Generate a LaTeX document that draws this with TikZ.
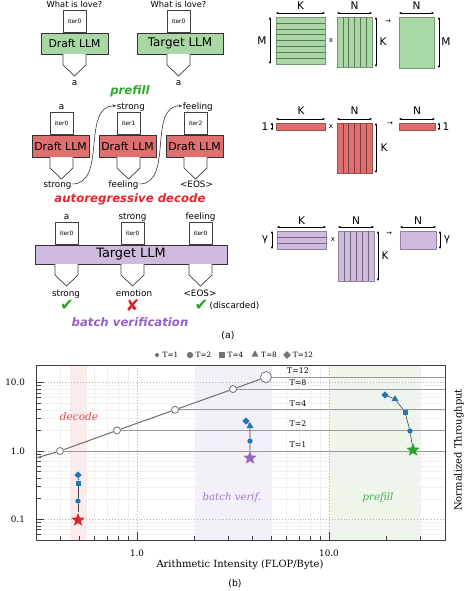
\documentclass[tikz,border=0pt]{standalone}
\usepackage{fontspec}
\setmainfont{DejaVu Sans}
\newfontfamily\plotfont{DejaVu Serif}
\usepackage{tikz}
\usetikzlibrary{arrows.meta,positioning,shapes.geometric,calc}
\definecolor{DraftGreen}{HTML}{A9D8A6}
\definecolor{StageRed}{HTML}{E07070}
\definecolor{VerifPurple}{HTML}{CFBAE0}
\definecolor{LabGreen}{HTML}{2EAA2E}
\definecolor{LabRed}{HTML}{E8262B}
\definecolor{LabPurple}{HTML}{9460C8}
\definecolor{MplBlue}{HTML}{1F77B4}
\definecolor{StarRed}{HTML}{D62728}
\definecolor{StarPurple}{HTML}{9467BD}
\definecolor{StarGreen}{HTML}{2CA02C}
\definecolor{DecShade}{HTML}{FCEBEB}
\definecolor{BatShade}{HTML}{F3F0F9}
\definecolor{PreShade}{HTML}{EEF6EC}
\newcommand{\fs}[1]{\fontsize{#1}{#1}\selectfont}

\begin{document}
\begin{tikzpicture}[x=0.03cm,y=-0.03cm,
  llm/.style={draw=black!80,line width=0.8pt,inner sep=0pt,minimum height=0.63cm},
  iterbox/.style={draw=black!75,fill=white,line width=0.5pt,inner sep=0pt,minimum width=0.69cm,minimum height=0.66cm,font=\fs{5}},
  tok/.style={inner sep=0.5pt,text height=1.5ex,text depth=0.3ex,font=\fs{7.5}},
  stage/.style={font=\fs{10}\bfseries\itshape},
  pent/.style={draw=black!75,fill=white,line width=0.6pt},
  tokflow/.style={-{Stealth[length=3pt,width=2.5pt]},line width=0.5pt,black!80},
  mat/.style={draw=#1!70!black,fill=#1,line width=0.4pt},
  dim/.style={{Latex[length=2pt,width=2pt]}-{Latex[length=2pt,width=2pt]},line width=0.6pt},
  mlab/.style={font=\fs{9},inner sep=0pt},
  verdict/.style={font=\fs{14},inner sep=0pt},
  plotaxis/.style={black!75,line width=0.8pt},
  minorgrid/.style={black!6,line width=0.4pt},
  majorgrid/.style={black!30,dotted,line width=0.5pt},
  mk/.style={fill=MplBlue,inner sep=0pt,draw=none},
  mcirc/.style={mk,circle,minimum size=0.16cm},
  msq/.style={mk,rectangle,minimum size=0.15cm},
  mtri/.style={mk,regular polygon,regular polygon sides=3,minimum size=0.24cm},
  mdia/.style={mk,diamond,minimum size=0.22cm},
  mstar/.style={star,star points=5,star point ratio=2.3,inner sep=0pt,minimum size=0.42cm,fill=#1},
  roofpt/.style={circle,draw=black!55,fill=white,line width=0.7pt,inner sep=0pt,minimum size=0.21cm},
  trace/.style={black!75,line width=0.5pt},
  lgd/.style={black!55,inner sep=0pt}]
\useasboundingbox (0,0) rectangle (472,591);

\node[llm,fill=DraftGreen,minimum width=2.01cm,font=\fs{9.2}] (pdraft) at (74.5,43.5) {Draft LLM};
\node[llm,fill=DraftGreen,minimum width=2.58cm,font=\fs{10.2}] (ptarget) at (180,43.5) {Target LLM};
\node[iterbox,anchor=south] (pit1) at (74.5,33) {iter0};
\node[iterbox,anchor=south] (pit2) at (178.5,33) {iter0};
\node[tok,font=\fs{7.1},above=0pt of pit1] (pin1) {What is love?};
\node[tok,font=\fs{7.1},above=0pt of pit2] (pin2) {What is love?};
\node[tok] (pout1) at (74.5,82) {a};
\node[tok] (pout2) at (178.5,82) {a};
\node[stage,text=LabGreen] (prefill) at (130,91) {prefill};

\foreach \n/\x in {1/60.5,2/127.5,3/194.5}
  \node[llm,fill=StageRed,minimum width=1.71cm,minimum height=0.66cm,font=\fs{9.3}] (ddraft\n) at (\x,146) {Draft LLM};
\node[iterbox,anchor=south] (dit1) at (61.5,135) {iter0};
\node[iterbox,anchor=south] (dit2) at (128.5,135) {iter1};
\node[iterbox,anchor=south] (dit3) at (195.5,135) {iter2};
\node[tok,above=0pt of dit1] (din1) {a};
\node[tok,above=0pt of dit2,xshift=2pt] (din2) {strong};
\node[tok,above=0pt of dit3,xshift=2pt] (din3) {feeling};
\node[tok] (dout1) at (57.5,184) {strong};
\node[tok] (dout2) at (123.5,184) {feeling};
\node[tok] (dout3) at (196.5,184) {<EOS>};
\draw[tokflow] (dout1.east) to[out=0,in=180] (din2.west);
\draw[tokflow] (dout2.east) to[out=0,in=180] (din3.west);
\node[stage,text=LabRed] (decode) at (130,199) {autoregressive decode};

\node[llm,fill=VerifPurple,minimum width=5.76cm,minimum height=0.57cm,font=\fs{11}] (vtarget) at (131,254.5) {Target LLM};
\node[iterbox,anchor=south] (vit1) at (66.5,245) {iter0};
\node[iterbox,anchor=south] (vit2) at (132.5,245) {iter0};
\node[iterbox,anchor=south] (vit3) at (200.5,245) {iter0};
\node[tok,above=0pt of vit1] (vin1) {a};
\node[tok,above=0pt of vit2] (vin2) {strong};
\node[tok,above=0pt of vit3] (vin3) {feeling};
\node[tok] (vout1) at (66,293) {strong};
\node[tok] (vout2) at (134,293) {emotion};
\node[tok] (vout3) at (200,293) {<EOS>};
\node[verdict,text=StarGreen] (ok1) at (67,305) {✔};
\node[verdict,text=StarRed] (bad2) at (132.5,305) {✘};
\node[verdict,text=StarGreen] (ok3) at (201.5,305) {✔};
\node[tok] (discard) at (234.5,305) {(discarded)};
\node[stage,text=LabPurple] (verif) at (130,322) {batch verification};

\foreach \cx/\ty in {74.5/54,178.5/54,61.5/157,128.5/157,195.5/157,66.5/264,132.5/264,200.5/264}
  \draw[pent] ({\cx-11.5},\ty) -- ++(0,11) -- (\cx,{\ty+22}) -- ({\cx+11.5},{\ty+11}) -- ++(0,-11);

\draw[mat=DraftGreen] (276,17) rectangle (325,64);
\foreach \i in {1,...,7} \draw[DraftGreen!55!black,line width=0.4pt] (276,{17+\i*47/8}) -- (325,{17+\i*47/8});
\draw[mat=DraftGreen] (337,17) rectangle (372,67);
\foreach \i in {1,...,5} \draw[DraftGreen!55!black,line width=0.4pt] ({337+\i*35/6},17) -- ({337+\i*35/6},67);
\draw[mat=DraftGreen] (399,17) rectangle (434,68);
\draw[dim] (276,13) -- (325,13);
\draw[dim] (337,13) -- (372,13);
\draw[dim] (399,13) -- (434,13);
\draw[dim] (270,17) -- (270,64);
\draw[dim] (376,17) -- (376,67);
\draw[dim] (439,17) -- (439,68);
\node[mlab] at (300.5,6) {K};
\node[mlab] at (354.5,6) {N};
\node[mlab] at (416.5,6) {N};
\node[mlab] at (262,40.5) {M};
\node[mlab] at (383,42) {K};
\node[mlab] at (446,42) {M};
\node[font=\fs{6}] at (331,41) {x};
\node[font=\fs{6}] at (388,22) {→};

\draw[mat=StageRed] (276,123) rectangle (325,130);
\draw[mat=StageRed] (337,123) rectangle (372,173);
\foreach \i in {1,...,5} \draw[StageRed!55!black,line width=0.4pt] ({337+\i*35/6},123) -- ({337+\i*35/6},173);
\draw[mat=StageRed] (399,123) rectangle (435,130);
\draw[dim] (276,119) -- (325,119);
\draw[dim] (337,119) -- (372,119);
\draw[dim] (399,119) -- (435,119);
\draw[dim] (272,122.5) -- (272,130.5);
\draw[dim] (376,123) -- (376,173);
\draw[dim] (439,122.5) -- (439,130.5);
\node[mlab] at (301,111) {K};
\node[mlab] at (354.5,111) {N};
\node[mlab] at (417,111) {N};
\node[mlab] at (265,126.5) {1};
\node[mlab] at (384,148) {K};
\node[mlab] at (446,126.5) {1};
\node[font=\fs{6}] at (331,126.5) {x};
\node[font=\fs{6}] at (390,124) {→};

\draw[mat=VerifPurple] (277,231) rectangle (326,249);
\foreach \i in {1,2} \draw[VerifPurple!55!black,line width=0.4pt] (277,{231+\i*6}) -- (326,{231+\i*6});
\draw[mat=VerifPurple] (338,231) rectangle (374,281);
\foreach \i in {1,...,5} \draw[VerifPurple!55!black,line width=0.4pt] ({338+\i*6},231) -- ({338+\i*6},281);
\draw[mat=VerifPurple] (400,231) rectangle (436,249);
\draw[dim] (277,227) -- (326,227);
\draw[dim] (338,227) -- (374,227);
\draw[dim] (400,227) -- (436,227);
\draw[dim] (272,231) -- (272,249);
\draw[dim] (378,231) -- (378,281);
\draw[dim] (440,231) -- (440,249);
\node[mlab] at (301.5,221) {K};
\node[mlab] at (356,221) {N};
\node[mlab] at (418,221) {N};
\node[mlab] at (265,240) {γ};
\node[mlab] at (385,256) {K};
\node[mlab] at (447,240) {γ};
\node[font=\fs{6}] at (333,240) {x};
\node[font=\fs{6}] at (389,234) {→};

\node[font=\fs{8}] (capa) at (228,336) {(a)};

\fill[DecShade] (70,365) rectangle (87,540);
\fill[BatShade] (195,365) rectangle (271,540);
\fill[PreShade] (329,365) rectangle (421,540);
\foreach \v in {0.4,0.5,0.6,0.7,0.8,0.9,2,3,4,5,6,7,8,9,20,30} {
  \pgfmathsetmacro\xx{137+192*log10(\v)}
  \draw[minorgrid] (\xx,365) -- (\xx,540);
  \draw[plotaxis,line width=0.6pt] (\xx,540) -- (\xx,535.5);
}
\foreach \v in {0.06,0.07,0.08,0.09,0.2,0.3,0.4,0.5,0.6,0.7,0.8,0.9,2,3,4,5,6,7,8,9} {
  \pgfmathsetmacro\yy{451-68.5*log10(\v)}
  \draw[minorgrid] (36,\yy) -- (445,\yy);
  \draw[plotaxis,line width=0.6pt] (36,\yy) -- (40.5,\yy);
}
\foreach \xx in {137,329} {
  \draw[majorgrid] (\xx,365) -- (\xx,540);
  \draw[plotaxis] (\xx,540) -- (\xx,532);
}
\foreach \yy in {382.5,451,519.5} {
  \draw[majorgrid] (36,\yy) -- (445,\yy);
  \draw[plotaxis] (36,\yy) -- (44,\yy);
}

\node[text=LabRed!85,font=\plotfont\fs{9}\itshape] (ldec) at (79,417) {decode};
\node[text=LabPurple!85,font=\plotfont\fs{8.7}\itshape] (lbat) at (232,498) {batch verif.};
\node[text=StarGreen!85,font=\plotfont\fs{8.7}\itshape] (lpre) at (378,498) {prefill};

\coordinate (roofL) at (36,458);
\node[roofpt] (c1) at (60,451) {};
\node[roofpt] (c2) at (117,430.4) {};
\node[roofpt] (c4) at (175,409.8) {};
\node[roofpt] (c8) at (233,389.1) {};
\node[roofpt,minimum size=0.33cm] (c12) at (266,377.1) {};
\foreach \t/\ly in {1/445,2/424,4/403.5,8/383,12/371} {
  \draw[black!40,line width=0.8pt] (c\t) -- (c\t -| 445,0);
  \node[font=\plotfont\fs{6.7},inner sep=0pt] (tl\t) at (298,\ly) {T=\t};
}
\draw[black!55,line width=0.9pt] (roofL) -- (c1) -- (c2) -- (c4) -- (c8) -- (c12);

\node[mstar=StarRed] (dS) at (78,520) {};
\node[mcirc] (dC) at (78,501) {};
\node[msq] (dQ) at (78,483) {};
\node[mdia] (dD) at (78,475) {};
\draw[trace] (dS) -- (dC) -- (dQ) -- (dD);
\node[mstar=StarPurple] (bS) at (250,458) {};
\node[mcirc] (bC) at (250,441) {};
\node[mtri] (bT) at (250,426) {};
\node[mdia] (bD) at (246,421) {};
\draw[trace] (bS) -- (bC) -- (bT) -- (bD);
\node[mstar=StarGreen] (pS) at (413,450) {};
\node[mcirc] (pC) at (410,431) {};
\node[msq] (pQ) at (405,412) {};
\node[mtri] (pT) at (395,399) {};
\node[mdia] (pD) at (385,395) {};
\draw[trace] (pS) -- (pC) -- (pQ) -- (pT) -- (pD);

\draw[plotaxis] (36,365) rectangle (445,540);
\node[anchor=east,font=\plotfont\fs{7.5}] at (29,382.5) {10.0};
\node[anchor=east,font=\plotfont\fs{7.5}] at (29,451) {1.0};
\node[anchor=east,font=\plotfont\fs{7.5}] at (29,519.5) {0.1};
\node[font=\plotfont\fs{7.5}] at (137,553) {1.0};
\node[font=\plotfont\fs{7.5}] at (329,553) {10.0};
\node[font=\plotfont\fs{8.5}] (xtitle) at (240,565) {Arithmetic Intensity (FLOP/Byte)};
\node[font=\plotfont\fs{8.5},rotate=90] (ytitle) at (459,450) {Normalized Throughput};
\node[font=\fs{8}] (capb) at (235,584) {(b)};

\node[lgd,circle,fill=black!55,minimum size=0.12cm] (k1) at (157,355) {};
\node[lgd,circle,fill=black!55,minimum size=0.19cm] (k2) at (190,355) {};
\node[lgd,rectangle,fill=black!55,minimum size=0.18cm] (k4) at (222,355) {};
\node[lgd,regular polygon,regular polygon sides=3,fill=black!55,minimum size=0.25cm] (k8) at (255,354.5) {};
\node[lgd,diamond,fill=black!55,minimum size=0.24cm] (k12) at (287,355) {};
\foreach \t/\x in {1/170.5,2/203.5,4/235.5,8/269,12/303}
  \node[font=\plotfont\fs{6.2},inner sep=0pt] at (\x,355) {T=\t};
\end{tikzpicture}
\end{document}
